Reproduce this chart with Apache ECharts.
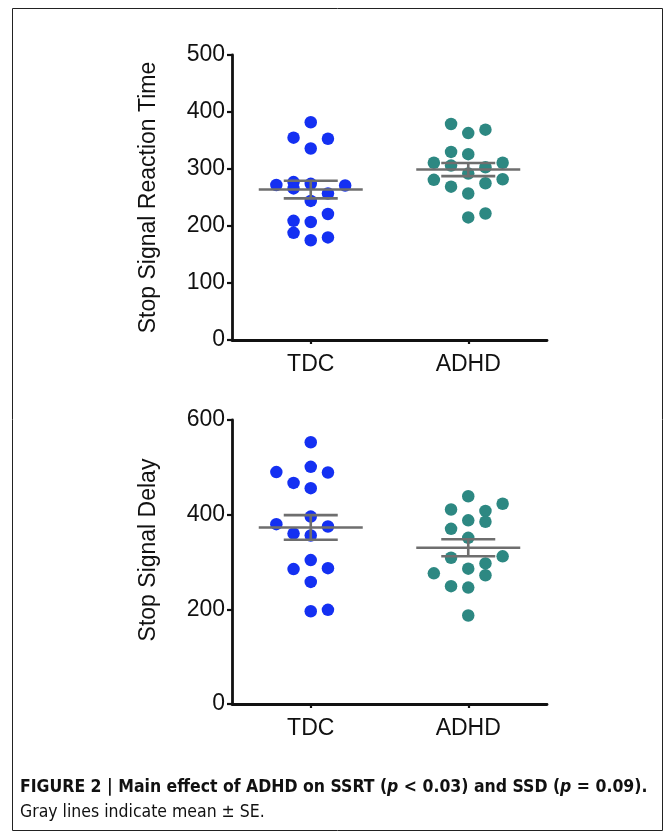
<!DOCTYPE html>
<html><head><meta charset="utf-8">
<script src="https://cdn.jsdelivr.net/npm/echarts@6/dist/echarts.min.js"></script>
<style>html,body{margin:0;padding:0;background:#fff}#c{width:672px;height:837px}</style>
</head><body><div id="c"></div>
<script>
// ---- data ----
const categories = ['TDC', 'ADHD'];
const ssrtTicks = [0, 100, 200, 300, 400, 500];
const ssdTicks = [0, 200, 400, 600];

const ssrtTDC    = [382, 355, 353, 336, 272, 277, 274, 266, 257, 271, 244, 221, 209, 207, 188, 175, 180];
const ssrtTDCCol = [0, -1, 1, 0, -2, -1, 0, -1, 1, 2, 0, 1, -1, 0, -1, 0, 1];
const ssrtADHD    = [379, 363, 369, 330, 326, 311, 306, 303, 311, 292, 281, 269, 275, 282, 257, 215, 222];
const ssrtADHDCol = [-1, 0, 1, -1, 0, -2, -1, 1, 2, 0, -2, -1, 1, 2, 0, 0, 1];

const ssdTDC    = [553, 490, 501, 489, 467, 456, 380, 396, 375, 360, 356, 304, 285, 287, 258, 196, 199];
const ssdTDCCol = [0, -2, 0, 1, -1, 0, -2, 0, 1, -1, 0, 0, -1, 1, 0, 0, 1];
const ssdADHD    = [439, 411, 408, 423, 388, 385, 370, 351, 309, 312, 297, 276, 286, 272, 249, 246, 187];
const ssdADHDCol = [0, -1, 1, 2, 0, 1, -1, 0, -1, 2, 1, -2, 0, 1, -1, 0, 0];

const ssrtMean = [264, 299];
const ssrtSE   = [15.5, 11.5];
const ssdMean  = [373, 330];
const ssdSE    = [26, 18];

// ---- style ----
const BLUE = '#1430f2';
const TEAL = '#2d8882';
const GRAY = '#6e6e6e';
const FONT = '"Liberation Sans", Arial, Helvetica, sans-serif';
const COLW = 17.2;

function pickFont(list) {
  const ctx = document.createElement('canvas').getContext('2d');
  const s = 'FIGURE 2 Main effect of ADHD on SSRT abcdefghijklm 0123';
  for (const f of list) {
    ctx.font = '20px monospace'; const a = ctx.measureText(s).width;
    ctx.font = '20px "' + f + '", monospace'; const b = ctx.measureText(s).width;
    if (Math.abs(a - b) > 0.5) return f;
  }
  return 'Liberation Sans';
}
const capFont = pickFont(['Liberation Sans Narrow', 'Arial Narrow', 'DejaVu Sans Condensed', 'Liberation Sans']);
const capParts = [['b', 'FIGURE 2 | Main effect of ADHD on SSRT ('], ['bi', 'p'], ['b', ' < 0.03) and SSD ('], ['bi', 'p'], ['b', ' = 0.09).']];
function measureCaption(size) {
  const ctx = document.createElement('canvas').getContext('2d');
  let w = 0;
  for (const [k, t] of capParts) {
    ctx.font = (k === 'bi' ? 'italic ' : '') + 'bold ' + size + 'px "' + capFont + '"';
    w += ctx.measureText(t).width;
  }
  return w;
}
let capSize = 18;
const wTest = measureCaption(capSize);
capSize = Math.min(19, capSize * 628 / wTest);
const capText = capParts.map(([k, t]) => '{' + k + '|' + t + '}').join('');

function scatterData(catIdx, vals, cols) {
  return vals.map((v, i) => ({ value: [catIdx, v], symbolOffset: [cols[i] * COLW, 0] }));
}
function meanData(means, ses) {
  return means.map((m, i) => [i, m, m + ses[i], m - ses[i]]);
}
function renderMean(params, api) {
  const c = api.coord([api.value(0), api.value(1)]);
  const hi = api.coord([api.value(0), api.value(2)]);
  const lo = api.coord([api.value(0), api.value(3)]);
  const st = { stroke: GRAY, lineWidth: 2.6 };
  return {
    type: 'group',
    children: [
      { type: 'line', shape: { x1: c[0] - 52, y1: c[1], x2: c[0] + 52, y2: c[1] }, style: st },
      { type: 'line', shape: { x1: c[0] - 27, y1: hi[1], x2: c[0] + 27, y2: hi[1] }, style: st },
      { type: 'line', shape: { x1: c[0] - 27, y1: lo[1], x2: c[0] + 27, y2: lo[1] }, style: st },
      { type: 'line', shape: { x1: c[0], y1: hi[1], x2: c[0], y2: lo[1] }, style: st }
    ]
  };
}

const axisLineStyle = { color: '#111', width: 2.8 };
function yAxis(idx, ticks, name, pad) {
  return {
    type: 'value', gridIndex: idx,
    min: ticks[0], max: ticks[ticks.length - 1], interval: ticks[1] - ticks[0],
    name: name, nameLocation: 'middle', nameGap: 72,
    nameTextStyle: { fontFamily: FONT, fontSize: 23, color: '#111', padding: pad },
    axisLine: { show: true, lineStyle: axisLineStyle },
    axisTick: { show: true, length: 5, lineStyle: { color: '#111', width: 2.2 } },
    axisLabel: { fontFamily: FONT, fontSize: 23, color: '#111', margin: 7 },
    splitLine: { show: false }
  };
}
function xAxis(idx) {
  return {
    type: 'category', gridIndex: idx, data: categories,
    axisLine: { show: true, lineStyle: axisLineStyle },
    axisTick: { show: true, alignWithLabel: true, length: 4, lineStyle: { color: '#111', width: 2.2 } },
    axisLabel: { fontFamily: FONT, fontSize: 23, color: '#111', margin: 13 },
    splitLine: { show: false }
  };
}

const chart = echarts.init(document.getElementById('c'), null, { renderer: 'canvas' });
chart.setOption({
  animation: false,
  backgroundColor: '#fff',
  grid: [
    { left: 232, top: 55, width: 315, height: 285 },
    { left: 232, top: 420, width: 315, height: 284 }
  ],
  xAxis: [xAxis(0), xAxis(1)],
  yAxis: [yAxis(0, ssrtTicks, 'Stop Signal Reaction Time', [0, 0, 0, 0]), yAxis(1, ssdTicks, 'Stop Signal Delay', [0, 0, 0, 24])],
  series: [
    { type: 'scatter', xAxisIndex: 0, yAxisIndex: 0, symbolSize: 12.5, itemStyle: { color: BLUE, opacity: 1 }, data: scatterData(0, ssrtTDC, ssrtTDCCol), z: 2 },
    { type: 'scatter', xAxisIndex: 0, yAxisIndex: 0, symbolSize: 12.5, itemStyle: { color: TEAL, opacity: 1 }, data: scatterData(1, ssrtADHD, ssrtADHDCol), z: 2 },
    { type: 'scatter', xAxisIndex: 1, yAxisIndex: 1, symbolSize: 12.5, itemStyle: { color: BLUE, opacity: 1 }, data: scatterData(0, ssdTDC, ssdTDCCol), z: 2 },
    { type: 'scatter', xAxisIndex: 1, yAxisIndex: 1, symbolSize: 12.5, itemStyle: { color: TEAL, opacity: 1 }, data: scatterData(1, ssdADHD, ssdADHDCol), z: 2 },
    { type: 'custom', xAxisIndex: 0, yAxisIndex: 0, renderItem: renderMean, data: meanData(ssrtMean, ssrtSE), z: 5, silent: true },
    { type: 'custom', xAxisIndex: 1, yAxisIndex: 1, renderItem: renderMean, data: meanData(ssdMean, ssdSE), z: 5, silent: true }
  ],
  graphic: [
    { type: 'rect', shape: { x: 12.5, y: 8.5, width: 650, height: 822 }, style: { fill: 'none', stroke: '#222', lineWidth: 1 }, silent: true },
    { type: 'text', left: 20, top: 779, style: {
        text: capText, fill: '#111',
        rich: {
          b: { fontFamily: capFont, fontWeight: 'bold', fontSize: capSize, fill: '#111' },
          bi: { fontFamily: capFont, fontWeight: 'bold', fontStyle: 'italic', fontSize: capSize, fill: '#111' }
        }
      } },
    { type: 'text', left: 20, top: 804, style: { text: 'Gray lines indicate mean \u00b1 SE.', fontFamily: capFont, fontSize: capSize, fill: '#111' } }
  ]
});
</script>
</body></html>
